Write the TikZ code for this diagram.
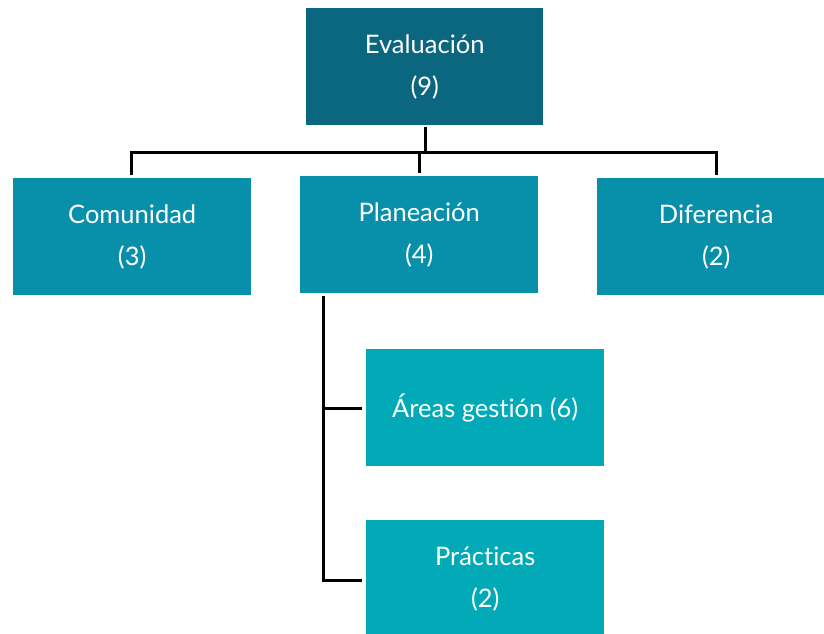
\documentclass[tikz,border=0pt]{standalone}
\usepackage{fontspec}
\setmainfont[Ligatures={NoCommon}]{Lato}
\begin{document}
\begin{tikzpicture}[x=1pt,y=-1pt,
  box/.style={anchor=north west,inner sep=0pt,text=white,align=center,
    minimum width=238pt,minimum height=117pt,
    font=\fontsize{25.5}{42}\selectfont},
  topbox/.style={box,fill=topteal},
  midbox/.style={box,fill=midteal},
  lowbox/.style={box,fill=lowteal},
  link/.style={draw=black,line width=3pt}]
\definecolor{topteal}{HTML}{0B667F}
\definecolor{midteal}{HTML}{0890AA}
\definecolor{lowteal}{HTML}{02A9B7}
\useasboundingbox (0,0) rectangle (824,634);
\node[topbox,minimum width=237pt] (eval) at (306,8) {Evaluación\\(9)};
\node[midbox] (com) at (13,178) {Comunidad\\(3)};
\node[midbox] (plan) at (300,176) {Planeación\\(4)};
\node[midbox] (dif) at (597,178) {Diferencia\\(2)};
\node[lowbox] (areas) at (366,349) {Áreas gestión (6)};
\node[lowbox] (prac) at (366,520) {Prácticas\\(2)};
% tree connectors
\coordinate (bar) at (425,152);
\draw[link] (425,127) -- (bar);
\draw[link] (131,175) |- (716,152) -- (716,175);
\draw[link] (419,152) -- (419,173);
% side bracket under Planeación
\coordinate (rail) at (323,296);
\draw[link] (rail) -- (323,580) -- (362,580);
\draw[link] (323,408) -- (362,408);
\end{tikzpicture}
\end{document}
